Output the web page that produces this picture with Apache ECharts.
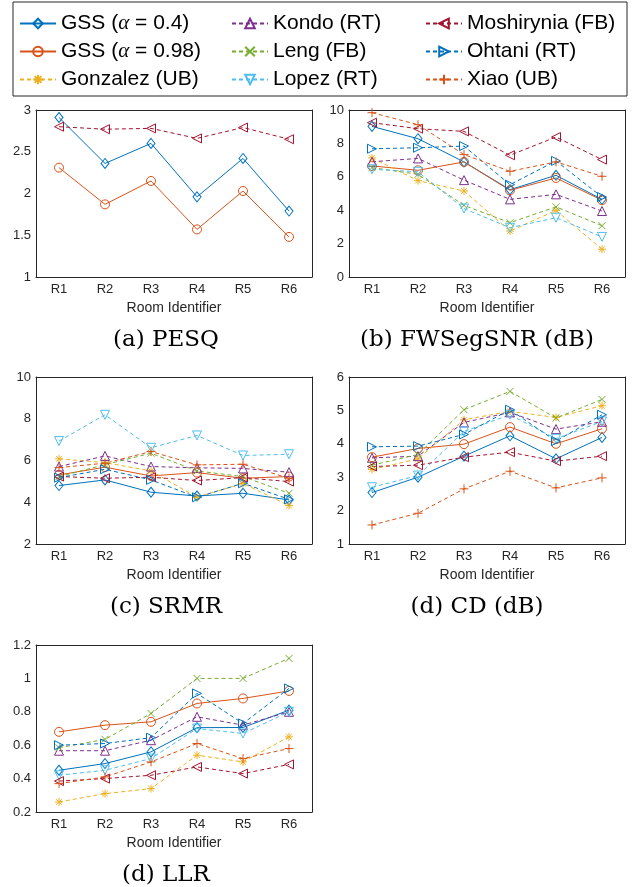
<!DOCTYPE html>
<html>
<head>
<meta charset="utf-8">
<script src="https://cdn.jsdelivr.net/npm/echarts@6/dist/echarts.min.js"></script>
<style>html,body{margin:0;background:#fff}#chart{width:633px;height:887px}</style>
</head>
<body>
<div id="chart"></div>
<script>
const rooms = ['R1', 'R2', 'R3', 'R4', 'R5', 'R6']
const methods = ['GSS (α = 0.4)', 'GSS (α = 0.98)', 'Gonzalez (UB)', 'Kondo (RT)', 'Leng (FB)',
  'Lopez (RT)', 'Moshirynia (FB)', 'Ohtani (RT)', 'Xiao (UB)']

// one row per method, same order as `methods` (null = not reported)
const pesq = [
  [2.91, 2.36, 2.60, 1.96, 2.42, 1.79],
  [2.31, 1.87, 2.15, 1.57, 2.03, 1.48],
  null, null, null, null,
  [2.80, 2.77, 2.78, 2.66, 2.79, 2.65],
  null, null
]
const fwsegsnr = [
  [9.02, 8.28, 6.89, 5.23, 6.09, 4.65],
  [6.65, 6.39, 6.89, 5.19, 5.93, 4.60],
  [7.13, 5.77, 5.15, 2.75, 3.99, 1.66],
  [6.90, 7.10, 5.80, 4.65, 4.95, 3.95],
  [6.55, 6.15, 4.29, 3.25, 4.20, 3.07],
  [6.45, 6.30, 4.10, 2.95, 3.55, 2.40],
  [9.24, 8.88, 8.72, 7.29, 8.38, 7.03],
  [7.68, 7.74, 7.84, 5.53, 6.95, 4.79],
  [9.84, 9.12, 7.33, 6.33, 6.89, 6.03]
]
const srmr = [
  [4.80, 5.07, 4.48, 4.30, 4.43, 4.11],
  [5.31, 5.68, 5.26, 5.42, 5.15, 5.23],
  [6.08, 5.90, 5.50, 4.24, 4.90, 3.84],
  [5.71, 6.22, 5.71, 5.65, 5.62, 5.44],
  [5.23, 5.80, 6.35, 5.50, 5.23, 4.43],
  [6.93, 8.19, 6.61, 7.20, 6.24, 6.30],
  [5.23, 5.15, 5.20, 5.04, 5.18, 4.99],
  [5.18, 5.58, 5.07, 4.24, 4.91, 4.14],
  [5.66, 5.87, 6.43, 5.79, 5.82, 5.15]
]
const cd = [
  [2.54, 3.00, 3.63, 4.24, 3.55, 4.19],
  [3.60, 3.86, 3.99, 4.50, 4.00, 4.45],
  [3.23, 3.55, 4.72, 4.97, 4.79, 5.14],
  [3.58, 3.63, 4.64, 4.94, 4.44, 4.66],
  [3.36, 3.68, 5.02, 5.57, 4.77, 5.33],
  [2.70, 3.05, 4.37, 4.87, 4.15, 4.67],
  [3.32, 3.36, 3.60, 3.75, 3.48, 3.63],
  [3.91, 3.93, 4.28, 5.02, 4.08, 4.87],
  [1.57, 1.92, 2.65, 3.18, 2.68, 2.98]
]
const llr = [
  [0.45, 0.49, 0.56, 0.705, 0.706, 0.81],
  [0.68, 0.72, 0.74, 0.85, 0.88, 0.925],
  [0.26, 0.31, 0.34, 0.54, 0.50, 0.65],
  [0.567, 0.567, 0.63, 0.77, 0.72, 0.80],
  [0.585, 0.635, 0.79, 1.0, 1.0, 1.12],
  [0.42, 0.45, 0.52, 0.70, 0.67, 0.80],
  [0.385, 0.40, 0.42, 0.47, 0.43, 0.485],
  [0.60, 0.61, 0.645, 0.91, 0.73, 0.94],
  [0.37, 0.41, 0.50, 0.61, 0.52, 0.58]
]

const colors = ['#0072BD', '#D95319', '#EDB120', '#7E2F8E', '#77AC30', '#4DBEEE', '#A2142F', '#0072BD', '#D95319']
const dashed = [false, false, true, true, true, true, true, true, true]
const markers = [
  ['path://M5 0L10 5L5 10L0 5Z', [8, 10]],
  ['path://M5 0A5 5 0 1 1 5 10A5 5 0 1 1 5 0Z', 9],
  ['path://M5 0L5 10M0 5L10 5M1.5 1.5L8.5 8.5M8.5 1.5L1.5 8.5', 8],
  ['path://M5 0L10 9L0 9Z', 9],
  ['path://M0 0L10 10M10 0L0 10', 7],
  ['path://M0 0L10 0L5 9Z', 9],
  ['path://M0 5L9 0L9 10Z', 9],
  ['path://M0 0L9 5L0 10Z', 9],
  ['path://M5 0L5 10M0 5L10 5', 9]
]

const panels = [
  { data: pesq, min: 1, max: 3, interval: 0.5, left: 36, top: 110, caption: '(a) PESQ', cx: 166 },
  { data: fwsegsnr, min: 0, max: 10, interval: 2, left: 349, top: 110, caption: '(b) FWSegSNR (dB)', cx: 477 },
  { data: srmr, min: 2, max: 10, interval: 2, left: 36, top: 377, caption: '(c) SRMR', cx: 166 },
  { data: cd, min: 1, max: 6, interval: 1, left: 349, top: 377, caption: '(d) CD (dB)', cx: 477 },
  { data: llr, min: 0.2, max: 1.2, interval: 0.2, left: 36, top: 645, caption: '(d) LLR', cx: 166 }
]
const W = 276, H = 167
const ink = '#262626'
const sans = 'Liberation Sans'

const grid = [], xAxis = [], yAxis = [], series = [], graphic = []
const line = { show: true, onZero: false, lineStyle: { color: ink, width: 1 } }

panels.forEach((p, i) => {
  grid.push({ left: p.left, top: p.top, width: W, height: H })
  const cat = { type: 'category', data: rooms, gridIndex: i, axisLine: line,
    axisTick: { inside: true, alignWithLabel: true, length: 4, lineStyle: { color: ink } } }
  xAxis.push(Object.assign({}, cat, {
    position: 'bottom',
    axisLabel: { color: ink, fontSize: 13, fontFamily: sans, margin: 6 },
    name: 'Room Identifier', nameLocation: 'middle', nameGap: 24,
    nameTextStyle: { color: ink, fontSize: 14, fontFamily: sans }
  }))
  xAxis.push(Object.assign({}, cat, { position: 'top', axisLabel: { show: false } }))
  const val = { type: 'value', gridIndex: i, min: p.min, max: p.max, interval: p.interval,
    axisLine: line, splitLine: { show: false },
    axisTick: { inside: true, length: 4, lineStyle: { color: ink } } }
  yAxis.push(Object.assign({}, val, {
    position: 'left',
    axisLabel: { color: ink, fontSize: 13, fontFamily: sans, margin: 5 }
  }))
  yAxis.push(Object.assign({}, val, { position: 'right', axisLabel: { show: false } }))

  p.data.forEach((vals, m) => {
    if (!vals) return
    series.push({
      type: 'line', name: methods[m], xAxisIndex: 2 * i, yAxisIndex: 2 * i, data: vals,
      symbol: markers[m][0], symbolSize: markers[m][1], showAllSymbol: true,
      lineStyle: { color: colors[m], width: 1, type: dashed[m] ? [4, 3] : 'solid' },
      itemStyle: { color: 'none', borderColor: colors[m], borderWidth: 1 },
      emphasis: { disabled: true }, silent: true
    })
  })

  graphic.push({ type: 'text', x: p.cx, y: p.top + H + 63,
    style: { text: p.caption, textAlign: 'center', textVerticalAlign: 'middle',
      font: '23px "DejaVu Serif"', fill: '#000' } })
})

graphic.push({ type: 'rect', shape: { x: 13, y: 2, width: 614, height: 94 },
  style: { fill: 'none', stroke: ink, lineWidth: 1 }, z: -1 })

const legend = [14, 226, 420].map((left, c) => ({
  data: methods.slice(c * 3, c * 3 + 3),
  orient: 'vertical', left, top: 8,
  itemWidth: 36, itemHeight: 12, itemGap: 7,
  selectedMode: false,
  formatter: name => name.replace('α', '{a|α}'),
  textStyle: { fontSize: 21, fontFamily: sans, color: '#000', lineHeight: 21,
    rich: { a: { fontSize: 21, fontFamily: 'Liberation Serif', fontStyle: 'italic', color: '#000' } } }
}))

const chart = echarts.init(document.getElementById('chart'), null, { renderer: 'canvas', width: 633, height: 887 })
chart.setOption({ animation: false, backgroundColor: '#fff', grid, xAxis, yAxis, series, legend, graphic })
</script>
</body>
</html>
